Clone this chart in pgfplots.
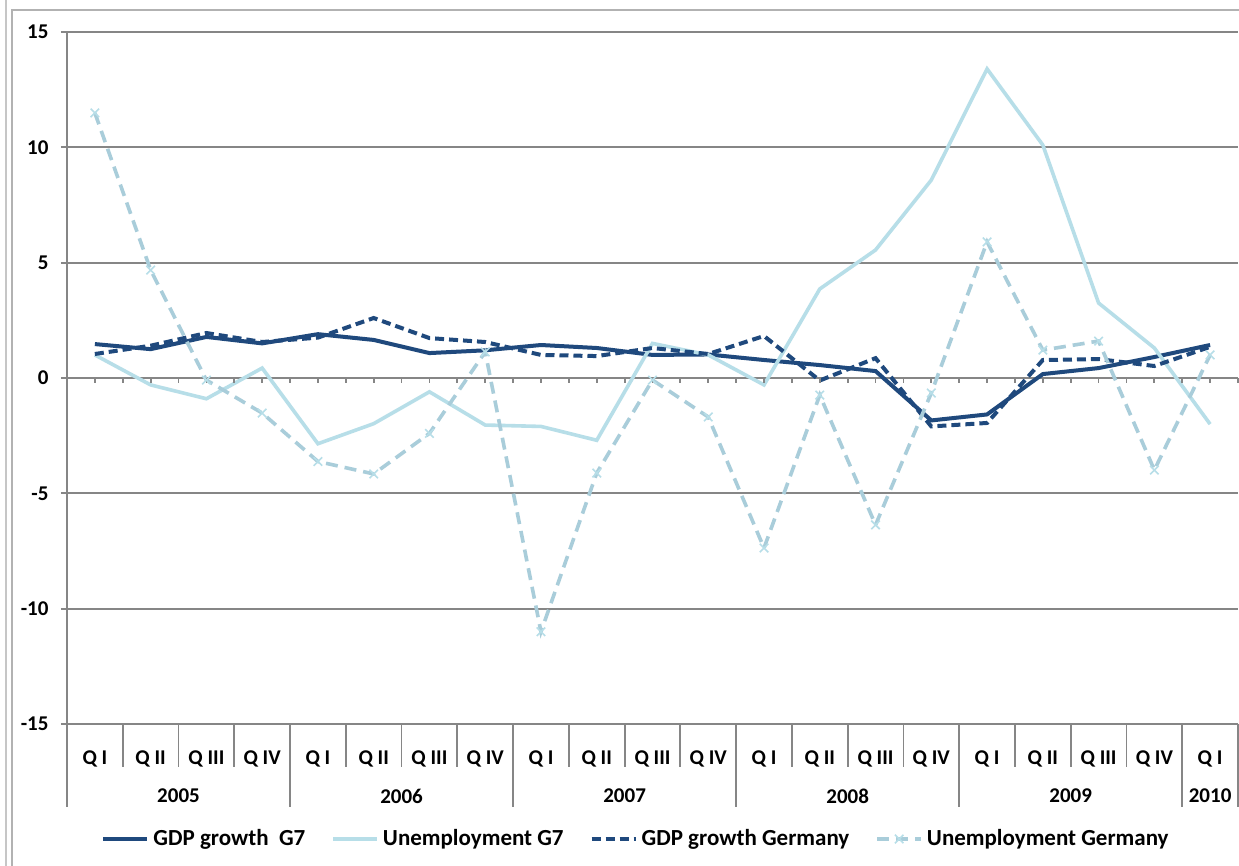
\documentclass[border=0pt]{standalone}
\usepackage{fontspec}
\setmainfont{Carlito}
\usepackage{pgfplots}
\pgfplotsset{compat=1.18}
\definecolor{darkblue}{HTML}{1F497D}
\definecolor{lightblue}{HTML}{B7DEE8}
\definecolor{lightblue2}{HTML}{A9CDDA}
\definecolor{gridgray}{HTML}{868686}
\newcommand\tickfont{\bfseries\fontsize{10.5}{12}\selectfont}
\newcommand\legfont{\bfseries\fontsize{11.5}{13}\selectfont}

\begin{document}
\begin{tikzpicture}
\useasboundingbox (0,0) rectangle (619.5pt,433pt);
\fill[white] (0,0) rectangle (619.5pt,433pt);
\draw[gray!45, line width=0.8pt] (3pt,0) -- (3pt,433pt);
\draw[gray!60, line width=0.8pt] (6pt,0) -- (6pt,428pt) -- (619.5pt,428pt);
\begin{axis}[
  at={(33.5pt,71pt)}, anchor=south west,
  scale only axis, width=585.5pt, height=346pt,
  xmin=-0.5, xmax=20.5, ymin=-15, ymax=15,
  axis lines*=left,
  axis line style={gridgray, line width=0.9pt},
  ytick={-15,-10,...,15},
  ymajorgrids, grid style={gridgray, line width=0.9pt},
  tick align=outside,
  major tick length=3pt,
  ytick style={gridgray, line width=0.9pt},
  xtick={0,...,20},
  xticklabels={Q I, Q II, Q III, Q IV, Q I, Q II, Q III, Q IV, Q I, Q II, Q III, Q IV, Q I, Q II, Q III, Q IV, Q I, Q II, Q III, Q IV, Q I},
  xtick style={draw=none},
  xticklabel style={anchor=center, yshift=-14.5pt, font=\tickfont},
  yticklabel style={font=\tickfont, xshift=-2.7pt},
  /pgf/number format/assume math mode=true,
  clip=false,
  legend columns=4,
  legend style={at={(0.4868,-0.1662)}, anchor=center, draw=none, fill=none,
    font=\legfont, inner sep=0pt,
    /tikz/every even column/.append style={column sep=11pt}},
  legend cell align=left,
  legend image code/.code={\draw[mark repeat=2,mark phase=2,#1] plot coordinates {(0pt,0pt) (11pt,0pt) (22pt,0pt)};},
]
\addplot[darkblue, line width=2pt, mark=none] coordinates {
(0,1.47) (1,1.25) (2,1.78) (3,1.5) (4,1.9) (5,1.65) (6,1.08) (7,1.2) (8,1.43) (9,1.3) (10,1.0)
(11,1.02) (12,0.78) (13,0.56) (14,0.3) (15,-1.84) (16,-1.58) (17,0.17) (18,0.43) (19,0.91) (20,1.43)};
\addlegendentry{GDP growth\ \ G7}
\addplot[lightblue, line width=1.8pt, mark=none] coordinates {
(0,1.0) (1,-0.3) (2,-0.9) (3,0.43) (4,-2.85) (5,-1.98) (6,-0.6) (7,-2.04) (8,-2.1) (9,-2.7) (10,1.5)
(11,1.0) (12,-0.3) (13,3.86) (14,5.55) (15,8.58) (16,13.4) (17,10.1) (18,3.25) (19,1.3) (20,-2.0)};
\addlegendentry{Unemployment G7}
\addplot[darkblue, line width=2pt, dash pattern=on 4.5pt off 2.5pt, mark=none] coordinates {
(0,1.04) (1,1.4) (2,1.95) (3,1.56) (4,1.75) (5,2.6) (6,1.73) (7,1.56) (8,1.0) (9,0.95) (10,1.3)
(11,1.04) (12,1.82) (13,-0.11) (14,0.86) (15,-2.1) (16,-1.95) (17,0.78) (18,0.82) (19,0.52) (20,1.35)};
\addlegendentry{GDP growth Germany}
\addplot[lightblue2, line width=1.8pt, dash pattern=on 6pt off 3.5pt, mark=x, mark size=3pt,
  mark options={solid, lightblue, line width=0.8pt}] coordinates {
(0,11.49) (1,4.68) (2,-0.09) (3,-1.52) (4,-3.62) (5,-4.16) (6,-2.4) (7,1.13) (8,-11.0) (9,-4.12) (10,-0.09)
(11,-1.69) (12,-7.37) (13,-0.74) (14,-6.37) (15,-0.65) (16,5.9) (17,1.21) (18,1.6) (19,-3.99) (20,1.0)};
\addlegendentry{Unemployment Germany}
% decorations: zero-line ticks, category separators, year labels
\pgfplotsinvokeforeach{0,0.5,...,20.5}{\draw[gridgray, line width=0.9pt] (axis cs:#1,0) -- ([yshift=-2.5pt]axis cs:#1,0);}
\pgfplotsinvokeforeach{0.5,1.5,...,19.5}{\draw[gridgray, line width=0.9pt] (axis cs:#1,-15) -- ([yshift=-21.5pt]axis cs:#1,-15);}
\pgfplotsinvokeforeach{-0.5,3.5,7.5,11.5,15.5,19.5,20.5}{\draw[gridgray, line width=0.9pt] (axis cs:#1,-15) -- ([yshift=-41.5pt]axis cs:#1,-15);}
\node[font=\tickfont] at ([yshift=-36pt]axis cs:1.5,-15) {2005};
\node[font=\tickfont] at ([yshift=-36pt]axis cs:5.5,-15) {2006};
\node[font=\tickfont] at ([yshift=-36pt]axis cs:9.5,-15) {2007};
\node[font=\tickfont] at ([yshift=-36pt]axis cs:13.5,-15) {2008};
\node[font=\tickfont] at ([yshift=-36pt]axis cs:17.5,-15) {2009};
\node[font=\tickfont] at ([yshift=-36pt]axis cs:20,-15) {2010};
\end{axis}
\end{tikzpicture}
\end{document}
